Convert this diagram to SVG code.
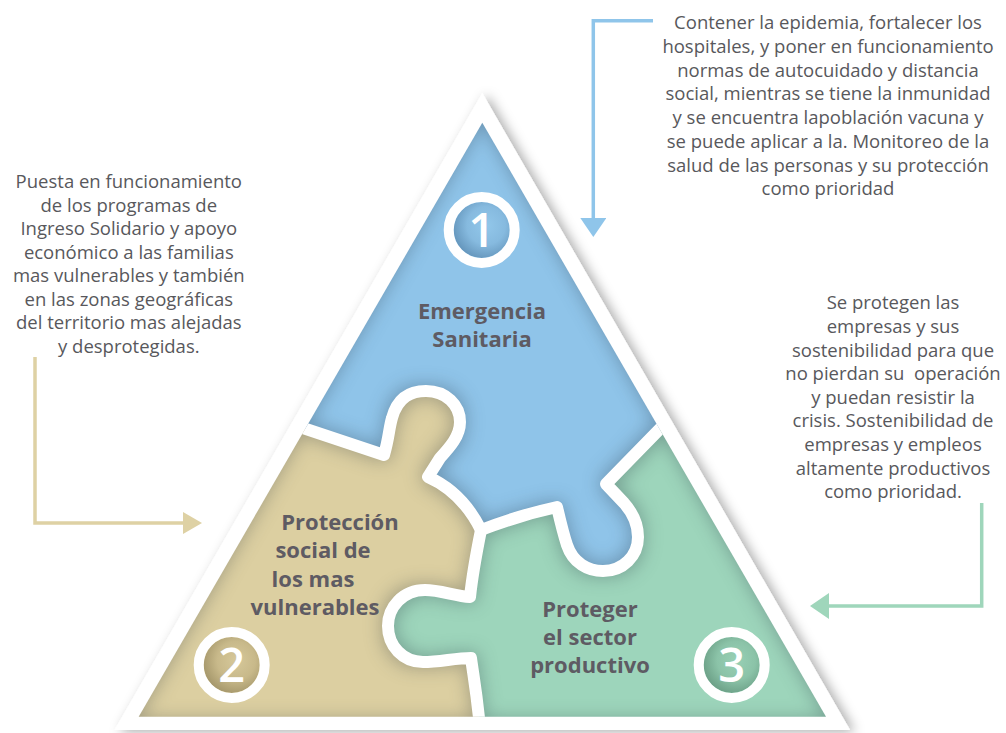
<svg xmlns="http://www.w3.org/2000/svg" width="1006" height="733" viewBox="0 0 1006 733">
  <defs>
    <style>
      .desc{font-family:"Open Sans","Liberation Sans",sans-serif;font-size:18.5px;fill:#58585c;text-anchor:middle}
      .label{font-family:"Open Sans","Liberation Sans",sans-serif;font-weight:700;font-size:22px;fill:#5e5b63;text-anchor:middle}
      .num{font-family:"Open Sans","Liberation Sans",sans-serif;font-weight:600;font-size:47px;fill:#ffffff;text-anchor:middle}
      .ring{fill:none;stroke:#ffffff;stroke-width:10}
      .gap{fill:none;stroke:#ffffff;stroke-width:12;stroke-linejoin:round;stroke-linecap:round}
      .link{fill:none;stroke-width:3.5}
    </style>
    <!-- inner coloured triangle and a slightly wider copy used for the inset shading -->
    <clipPath id="tri"><polygon points="482.3,122.7 826,716.7 138.7,716.7"/></clipPath>
    <clipPath id="triWide"><polygon points="482.3,106.7 839.1,724.7 125.5,724.7"/></clipPath>
    <filter id="drop" x="-10%" y="-10%" width="125%" height="120%">
      <feDropShadow dx="5" dy="2" stdDeviation="6" flood-color="#000000" flood-opacity="0.32"/>
    </filter>
    <filter id="inset" x="-10%" y="-10%" width="120%" height="120%" color-interpolation-filters="sRGB">
      <feMorphology in="SourceAlpha" operator="erode" radius="6" result="core"/>
      <feComponentTransfer in="core" result="inv"><feFuncA type="table" tableValues="1 0"/></feComponentTransfer>
      <feGaussianBlur in="inv" stdDeviation="9" result="soft"/>
      <feFlood flood-color="#1e2a3a" flood-opacity="0.3"/>
      <feComposite in2="soft" operator="in"/>
      <feComposite in2="SourceAlpha" operator="in" result="inner"/>
      <feMerge><feMergeNode in="SourceGraphic"/><feMergeNode in="inner"/></feMerge>
    </filter>
    <radialGradient id="disc1" cx="0.58" cy="0.42" r="0.62">
      <stop offset="0" stop-color="#92c7ea"/><stop offset="0.55" stop-color="#86badf"/><stop offset="1" stop-color="#6495bb"/>
    </radialGradient>
    <radialGradient id="disc2" cx="0.58" cy="0.42" r="0.62">
      <stop offset="0" stop-color="#d6c89a"/><stop offset="0.55" stop-color="#c8b98a"/><stop offset="1" stop-color="#a4966a"/>
    </radialGradient>
    <radialGradient id="disc3" cx="0.58" cy="0.42" r="0.62">
      <stop offset="0" stop-color="#98d0b5"/><stop offset="0.55" stop-color="#8bc3a8"/><stop offset="1" stop-color="#6b9f86"/>
    </radialGradient>
    <marker id="headBlue" markerUnits="userSpaceOnUse" markerWidth="19" markerHeight="26" viewBox="0 0 19 26" refX="0" refY="13" orient="auto">
      <path d="M0,0 L19,13 L0,26 Z" fill="#8fc5ea"/>
    </marker>
    <marker id="headTan" markerUnits="userSpaceOnUse" markerWidth="19" markerHeight="22" viewBox="0 0 19 22" refX="0" refY="11" orient="auto">
      <path d="M0,0 L19,11 L0,22 Z" fill="#ded1a4"/>
    </marker>
    <marker id="headGreen" markerUnits="userSpaceOnUse" markerWidth="19" markerHeight="26" viewBox="0 0 19 26" refX="0" refY="13" orient="auto">
      <path d="M0,0 L19,13 L0,26 Z" fill="#9fd6bb"/>
    </marker>
  </defs>

  <rect width="1006" height="733" fill="#ffffff"/>

  <!-- white frame with soft shadow -->
  <polygon points="482.3,93 850.1,730 114.5,730" fill="#ffffff" filter="url(#drop)"/>

  <!-- puzzle pieces -->
  <g clip-path="url(#tri)">
    <g id="piece-tan" filter="url(#inset)">
      <path clip-path="url(#triWide)" fill="#dccfa1" d="M270,417 L384,455 C389,438 389,428 392,418 C398,396 412,391 426,391 C446,391 460,405 460,422 C460,436 450,447 440,458 L428,477 Q462,492 481,530 C476,555 472,578 470,597 C455,596 440,590 425,590 C403,590 388,607 388,626 C388,646 403,662 423,662 C440,662 455,658 471,658 C474,680 478,700 481,740 L100,740 Z"/>
    </g>
    <g id="piece-blue" filter="url(#inset)">
      <path clip-path="url(#triWide)" fill="#8fc4e9" d="M270,417 L384,455 C389,438 389,428 392,418 C398,396 412,391 426,391 C446,391 460,405 460,422 C460,436 450,447 440,458 L428,477 Q462,492 481,530 Q520,515 557,507 C560,520 563,533 567,545 C573,563 588,571 603,571 C623,571 638,556 638,537 C638,522 632,512 624,503 L606,484 L690,398 L482,60 Z"/>
    </g>
    <g id="piece-green" filter="url(#inset)">
      <path clip-path="url(#triWide)" fill="#9dd5bb" d="M690,398 L606,484 L624,503 C632,512 638,522 638,537 C638,556 623,571 603,571 C588,571 573,563 567,545 C563,533 560,520 557,507 Q520,515 481,530 C476,555 472,578 470,597 C455,596 440,590 425,590 C403,590 388,607 388,626 C388,646 403,662 423,662 C440,662 455,658 471,658 C474,680 478,700 481,740 L900,740 L900,398 Z"/>
    </g>
    <!-- white seams between the pieces -->
    <g id="seams" class="gap">
      <path d="M270,417 L384,455 C389,438 389,428 392,418 C398,396 412,391 426,391 C446,391 460,405 460,422 C460,436 450,447 440,458 L428,477 Q462,492 481,530"/>
      <path d="M481,530 Q520,515 557,507 C560,520 563,533 567,545 C573,563 588,571 603,571 C623,571 638,556 638,537 C638,522 632,512 624,503 L606,484 L690,398"/>
      <path d="M481,530 C476,555 472,578 470,597 C455,596 440,590 425,590 C403,590 388,607 388,626 C388,646 403,662 423,662 C440,662 455,658 471,658 C474,680 478,700 481,740"/>
    </g>
  </g>

  <!-- node 1 -->
  <g id="node-emergencia">
    <circle cx="481.7" cy="230" r="28" fill="url(#disc1)"/>
    <circle class="ring" cx="481.7" cy="230" r="33"/>
    <text class="num" x="481.7" y="247">1</text>
    <text class="label" x="482" y="319">Emergencia</text>
    <text class="label" x="482" y="347">Sanitaria</text>
  </g>

  <!-- node 2 -->
  <g id="node-proteccion">
    <circle cx="231.7" cy="665" r="28" fill="url(#disc2)"/>
    <circle class="ring" cx="231.7" cy="665" r="33"/>
    <text class="num" x="231.7" y="682">2</text>
    <text class="label" x="340" y="530">Protección</text>
    <text class="label" x="323" y="558">social de</text>
    <text class="label" x="313" y="587">los mas</text>
    <text class="label" x="315" y="615">vulnerables</text>
  </g>

  <!-- node 3 -->
  <g id="node-productivo">
    <circle cx="731.7" cy="665" r="28" fill="url(#disc3)"/>
    <circle class="ring" cx="731.7" cy="665" r="33"/>
    <text class="num" x="731.7" y="682">3</text>
    <text class="label" x="590" y="617">Proteger</text>
    <text class="label" x="590" y="645">el sector</text>
    <text class="label" x="590" y="673">productivo</text>
  </g>

  <!-- notes -->
  <g id="note-salud" class="desc">
    <text x="828" y="29.3">Contener la epidemia, fortalecer los</text>
    <text x="828" y="53">hospitales, y poner en funcionamiento</text>
    <text x="828" y="76.7">normas de autocuidado y distancia</text>
    <text x="828" y="100.4">social, mientras se tiene la inmunidad</text>
    <text x="828" y="124.1">y se encuentra lapoblación vacuna y</text>
    <text x="828" y="147.8">se puede aplicar a la. Monitoreo de la</text>
    <text x="828" y="171.5">salud de las personas y su protección</text>
    <text x="828" y="195.2">como prioridad</text>
  </g>
  <g id="note-social" class="desc">
    <text x="128.8" y="188.3">Puesta en funcionamiento</text>
    <text x="128.8" y="211.8">de los programas de</text>
    <text x="128.8" y="235.3">Ingreso Solidario y apoyo</text>
    <text x="128.8" y="258.8">económico a las familias</text>
    <text x="128.8" y="282.3">mas vulnerables y también</text>
    <text x="128.8" y="305.8">en las zonas geográficas</text>
    <text x="128.8" y="329.3">del territorio mas alejadas</text>
    <text x="128.8" y="352.8">y desprotegidas.</text>
  </g>
  <g id="note-empresas" class="desc">
    <text x="893" y="309.3">Se protegen las</text>
    <text x="893" y="332.9">empresas y sus</text>
    <text x="893" y="356.5">sostenibilidad para que</text>
    <text x="893" y="380.1" xml:space="preserve">no pierdan su  operación</text>
    <text x="893" y="403.7">y puedan resistir la</text>
    <text x="893" y="427.3">crisis. Sostenibilidad de</text>
    <text x="893" y="450.9">empresas y empleos</text>
    <text x="893" y="474.5">altamente productivos</text>
    <text x="893" y="498.1">como prioridad.</text>
  </g>

  <!-- connectors -->
  <g id="connectors">
    <path class="link" stroke="#8fc5ea" d="M653,20.7 L593.3,20.7 L593.3,218" marker-end="url(#headBlue)"/>
    <path class="link" stroke="#ded1a4" d="M35,357 L35,523 L183,523" marker-end="url(#headTan)"/>
    <path class="link" stroke="#9fd6bb" d="M981.7,503 L981.7,606 L829,606" marker-end="url(#headGreen)"/>
  </g>
</svg>
